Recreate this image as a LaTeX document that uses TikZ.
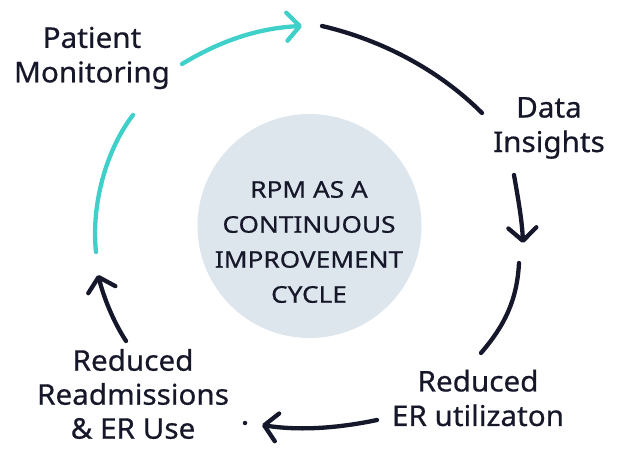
\documentclass[tikz,border=0pt]{standalone}
\usepackage{fontspec}
\setmainfont{Noto Sans}
\newfontfamily\labelfont{Noto Sans}[FakeBold=0.6, FakeStretch=1.04]
\newfontfamily\hubfont{Noto Sans}[FakeBold=0.6, FakeStretch=1.14]
\usetikzlibrary{arrows.meta}

\definecolor{cyclecyan}{HTML}{3FD0C9}
\definecolor{cyclenavy}{HTML}{15172B}
\definecolor{hubfill}{HTML}{DDE5ED}
\definecolor{inkcol}{HTML}{16182A}

\begin{document}
\begin{tikzpicture}[x=1pt,y=-1pt,
  flow/.style={line width=4.3pt, line cap=round, draw=cyclenavy},
  monitor/.style={flow, draw=cyclecyan},
  tip/.style={-{Straight Barb[length=13pt,width=28pt,round]}},
  steplabel/.style={font=\labelfont\fontsize{28.5}{34.5}\selectfont, text=inkcol, align=center, inner sep=0pt},
  hubtext/.style={font=\hubfont\fontsize{23}{35}\selectfont, text=inkcol, align=center, inner sep=0pt}]

\useasboundingbox (0,0) rectangle (623,449);

% central hub
\node[circle, fill=hubfill, minimum size=224pt, inner sep=0pt] (hub) at (309.5,226) {};
\node[hubtext] (hubcaption) at (309,242) {RPM AS A\\CONTINUOUS\\IMPROVEMENT\\CYCLE};

% step labels
\node[steplabel] (monitoring) at (92,58) {Patient\\Monitoring};
\node[steplabel] (insights) at (549,128) {Data\\Insights};
\node[steplabel] (erutil) at (478,398) {Reduced\\ER utilizaton};
\node[steplabel, font=\labelfont\fontsize{28.5}{34}\selectfont] (readmit) at (133,394) {Reduced\\Readmissions\\\& ER Use};

% end points of the cycle segments
\coordinate (pmA) at (182,64);  \coordinate (pmB) at (302,26);
\coordinate (diA) at (322,26);  \coordinate (diB) at (482,113);
\coordinate (diC) at (514,175); \coordinate (erA) at (523,243);
\coordinate (erB) at (519,263); \coordinate (erC) at (481,353);
\coordinate (erD) at (377,420); \coordinate (rrA) at (262,425);
\coordinate (rrB) at (126,341); \coordinate (pmC) at (98,275);
\coordinate (pmD) at (96,252);  \coordinate (pmE) at (133,115);

% cycle segments
\draw[monitor, tip] (pmA) .. controls (220,41) and (258,28) .. (pmB);
\draw[flow] (diA) .. controls (382,40) and (439,70) .. (diB);
\draw[flow, tip] (diC) .. controls (518,198) and (522,220) .. (erA);
\draw[flow] (erB) .. controls (517,300) and (505,325) .. (erC);
\draw[flow, tip] (erD) .. controls (339,428) and (300,431) .. (rrA);
\node[circle, fill=cyclenavy, inner sep=0pt, minimum size=4.5pt] (dot) at (245,423) {};
\draw[flow, tip] (rrB) .. controls (113,321) and (104,298) .. (pmC);
\draw[monitor] (pmD) .. controls (91,205) and (106,150) .. (pmE);

\end{tikzpicture}
\end{document}
